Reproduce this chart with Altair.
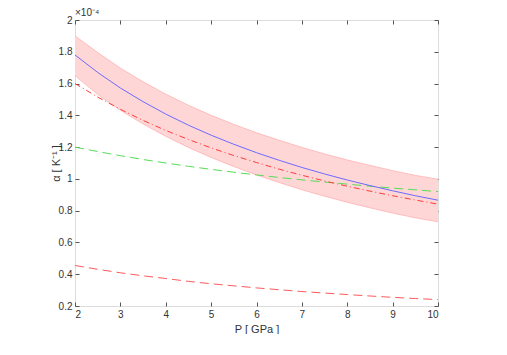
import altair as alt
import pandas as pd

# Pressure grid (GPa)
P = [2.0, 2.5, 3.0, 3.5, 4.0, 4.5, 5.0, 5.5, 6.0, 6.5, 7.0, 7.5, 8.0, 8.5, 9.0, 9.5, 10.0]
# thermal expansion (x1e-4 K^-1)
alpha_mean = [1.780, 1.670, 1.572, 1.486, 1.408, 1.338, 1.275, 1.218, 1.165, 1.117, 1.072, 1.031, 0.993, 0.958, 0.925, 0.894, 0.866]
band_upper = [1.900, 1.795, 1.697, 1.611, 1.533, 1.463, 1.400, 1.343, 1.290, 1.243, 1.198, 1.157, 1.119, 1.085, 1.052, 1.022, 0.998]
band_lower = [1.650, 1.532, 1.432, 1.346, 1.268, 1.198, 1.135, 1.078, 1.025, 0.977, 0.932, 0.891, 0.853, 0.818, 0.785, 0.755, 0.730]
alpha_dashdot = [1.600, 1.515, 1.438, 1.368, 1.305, 1.248, 1.195, 1.147, 1.103, 1.061, 1.023, 0.987, 0.954, 0.923, 0.894, 0.867, 0.841]
alpha_green = [1.200, 1.172, 1.146, 1.122, 1.100, 1.079, 1.060, 1.042, 1.025, 1.009, 0.994, 0.980, 0.967, 0.954, 0.942, 0.931, 0.920]
alpha_low = [0.455, 0.431, 0.409, 0.390, 0.373, 0.355, 0.340, 0.327, 0.314, 0.3025, 0.291, 0.2816, 0.272, 0.263, 0.2545, 0.247, 0.240]

x_ticks = [2, 3, 4, 5, 6, 7, 8, 9, 10]
y_ticks = [0.2, 0.4, 0.6, 0.8, 1.0, 1.2, 1.4, 1.6, 1.8, 2.0]

df = pd.DataFrame({
    "P": P, "mean": alpha_mean, "upper": band_upper, "lower": band_lower,
    "dashdot": alpha_dashdot, "green": alpha_green, "low": alpha_low,
})

FONT = "Liberation Sans"
xs = alt.Scale(domain=[2, 10], nice=False, zero=False)
ys = alt.Scale(domain=[0.2, 2.0], nice=False, zero=False)

common = dict(domain=False, grid=False, tickSize=4, tickColor="#555555", offset=-4,
              labelFont=FONT, labelFontSize=10, labelColor="#333333",
              titleFont=FONT, titleFontSize=11, titleColor="#333333", titleFontWeight="normal")

x_bottom = alt.Axis(orient="bottom", values=x_ticks, format="d", title="P [ GPa ]",
                    labelPadding=3, titlePadding=4, **common)
y_left = alt.Axis(orient="left", values=y_ticks, format="~g", title="α [ K⁻¹ ]",
                  labelPadding=3, titlePadding=-3, **common)
x_top = alt.Axis(orient="top", values=x_ticks, labels=False, title=None, **common)
y_right = alt.Axis(orient="right", values=y_ticks, labels=False, title=None, **common)

base = alt.Chart(df)

band = base.mark_area(color="#ffd6d6", opacity=1).encode(
    x=alt.X("P:Q", scale=xs, axis=x_bottom),
    y=alt.Y("upper:Q", scale=ys, axis=y_left),
    y2="lower:Q",
)

def line(field, color, dash=None, width=1.0, axes=False):
    kw = dict(color=color, strokeWidth=width)
    if dash is not None:
        kw["strokeDash"] = dash
    ax_x = x_top if axes else None
    ax_y = y_right if axes else None
    return base.mark_line(**kw).encode(
        x=alt.X("P:Q", scale=xs, axis=ax_x),
        y=alt.Y(f"{field}:Q", scale=ys, axis=ax_y),
    )

edge_u = line("upper", "#ffb0b0", width=0.8, axes=True)
edge_l = line("lower", "#ffb0b0", width=0.8)
l_mean = line("mean", "#6b6bff")
l_dd = line("dashdot", "#ff3b3b", dash=[6, 3, 1, 3])
l_green = line("green", "#55dd55", dash=[9, 5])
l_low = line("low", "#ff5a5a", dash=[9, 5])

chart = alt.layer(band, edge_u, edge_l, l_green, l_dd, l_mean, l_low).resolve_axis(
    x="independent", y="independent"
).properties(
    width=363, height=286,
    padding={"left": 42, "top": 0, "right": 0, "bottom": 0},
    title=alt.Title("×10⁻⁴", anchor="start", frame="group", fontSize=10,
                    fontWeight="normal", color="#333333", font=FONT, offset=-3),
).configure_view(stroke="#8a8a8a", strokeWidth=1).configure(background="white")

chart.save("out.html", embed_options={"renderer": "svg", "actions": False})
